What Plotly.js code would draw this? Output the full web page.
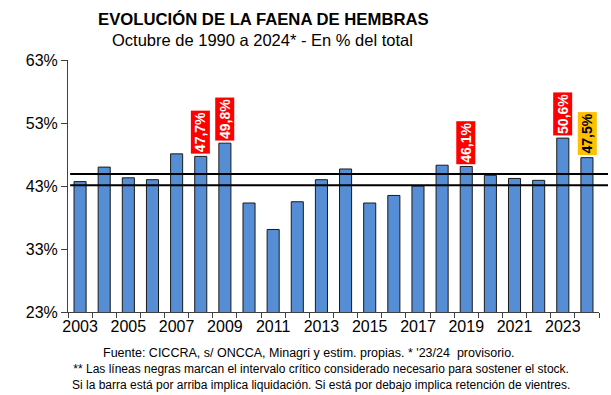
<!DOCTYPE html>
<html>
<head>
<meta charset="utf-8">
<script src="https://cdn.plot.ly/plotly-3.0.1.min.js"></script>
<style>html,body{margin:0;padding:0;background:#fff;}#chart{width:611px;height:395px;}</style>
</head>
<body>
<div id="chart"></div>
<script>
var years = [2003, 2004, 2005, 2006, 2007, 2008, 2009, 2010, 2011, 2012, 2013, 2014, 2015, 2016, 2017, 2018, 2019, 2020, 2021, 2022, 2023, 2024];
var values = [43.7, 46.0, 44.3, 44.0, 48.1, 47.7, 49.8, 40.3, 36.1, 40.5, 44.0, 45.7, 40.3, 41.5, 43.0, 46.3, 46.1, 44.7, 44.2, 43.9, 50.6, 47.5];
var tickYears = [2003, 2005, 2007, 2009, 2011, 2013, 2015, 2017, 2019, 2021, 2023];
var labeledYears = [2008, 2009, 2019, 2023, 2024];
var labelBg = ['#ff0000', '#ff0000', '#ff0000', '#ff0000', '#ffc000'];
var labelFg = ['#ffffff', '#ffffff', '#ffffff', '#ffffff', '#000000'];
var criticalLow = 43.1;
var criticalHigh = 44.9;
var yTicks = [23, 33, 43, 53, 63];

var font = 'Arial, "Liberation Sans", sans-serif';

var boundaries = years.map(function(y) { return y - 0.5; });
boundaries.push(years[years.length - 1] + 0.5);

var trace = {
  type: 'bar',
  x: years,
  y: values,
  width: 0.5,
  marker: {color: '#558ed5', line: {color: '#1a1a1a', width: 1}},
  hoverinfo: 'x+y'
};

var annotations = labeledYears.map(function(yr, i) {
  var v = values[years.indexOf(yr)];
  return {
    x: yr, y: v, xref: 'x', yref: 'y',
    text: '<b>' + v.toFixed(1).replace('.', ',') + '%</b>',
    textangle: -90,
    showarrow: false,
    xanchor: 'center', yanchor: 'bottom',
    yshift: 2,
    bgcolor: labelBg[i],
    borderpad: 1,
    font: {family: font, size: 14, color: labelFg[i]}
  };
});

annotations.push({
  xref: 'paper', yref: 'paper', x: (263 - 68) / 531, y: (312 - 20) / 252,
  xanchor: 'center', yanchor: 'middle', showarrow: false,
  text: '<b>EVOLUCIÓN DE LA FAENA DE HEMBRAS</b>',
  font: {family: font, size: 16.7, color: '#000'}
});
annotations.push({
  xref: 'paper', yref: 'paper', x: (262 - 68) / 531, y: (312 - 40) / 252,
  xanchor: 'center', yanchor: 'middle', showarrow: false,
  text: 'Octubre de 1990 a 2024* - En % del total',
  font: {family: font, size: 16.5, color: '#000'}
});
annotations.push({
  xref: 'paper', yref: 'paper', x: (309 - 68) / 531, y: (312 - 353) / 252,
  xanchor: 'center', yanchor: 'middle', showarrow: false,
  text: "Fuente: CICCRA, s/ ONCCA, Minagri y estim. propias. * '23/24  provisorio.",
  font: {family: font, size: 12.5, color: '#000'}
});
annotations.push({
  xref: 'paper', yref: 'paper', x: (321 - 68) / 531, y: (312 - 377) / 252,
  xanchor: 'center', yanchor: 'middle', showarrow: false,
  align: 'center',
  text: '** Las líneas negras marcan el intervalo crítico considerado necesario para sostener el stock.<br>' +
        'Si la barra está por arriba implica liquidación. Si está por debajo implica retención de vientres.',
  font: {family: font, size: 12, color: '#000'}
});

var shapes = [criticalLow, criticalHigh].map(function(v) {
  return {type: 'line', xref: 'paper', yref: 'y', x0: 0.004, x1: 1.017, y0: v, y1: v,
          line: {color: '#000', width: 2}};
});

var layout = {
  width: 611, height: 395,
  margin: {l: 68, r: 12, t: 60, b: 83},
  paper_bgcolor: '#fff', plot_bgcolor: '#fff',
  showlegend: false,
  font: {family: font, size: 16, color: '#000'},
  xaxis: {
    type: 'linear',
    range: [years[0] - 0.5, years[years.length - 1] + 0.5],
    tickvals: tickYears, ticktext: tickYears.map(String),
    ticks: '',
    minor: {tickvals: boundaries, ticks: 'outside', ticklen: 5, tickcolor: '#404040', showgrid: false},
    showline: true, linecolor: '#404040', linewidth: 1,
    showgrid: false, zeroline: false,
    tickfont: {family: font, size: 16, color: '#000'},
    fixedrange: true
  },
  yaxis: {
    range: [23, 63],
    tickvals: yTicks, ticktext: yTicks.map(function(t) { return t + '%'; }),
    ticks: 'outside', ticklen: 6, tickcolor: '#404040',
    showline: true, linecolor: '#404040', linewidth: 1,
    showgrid: false, zeroline: false,
    tickfont: {family: font, size: 16, color: '#000'},
    fixedrange: true
  },
  annotations: annotations,
  shapes: shapes
};

Plotly.newPlot('chart', [trace], layout, {displayModeBar: false, staticPlot: true});
</script>
</body>
</html>
